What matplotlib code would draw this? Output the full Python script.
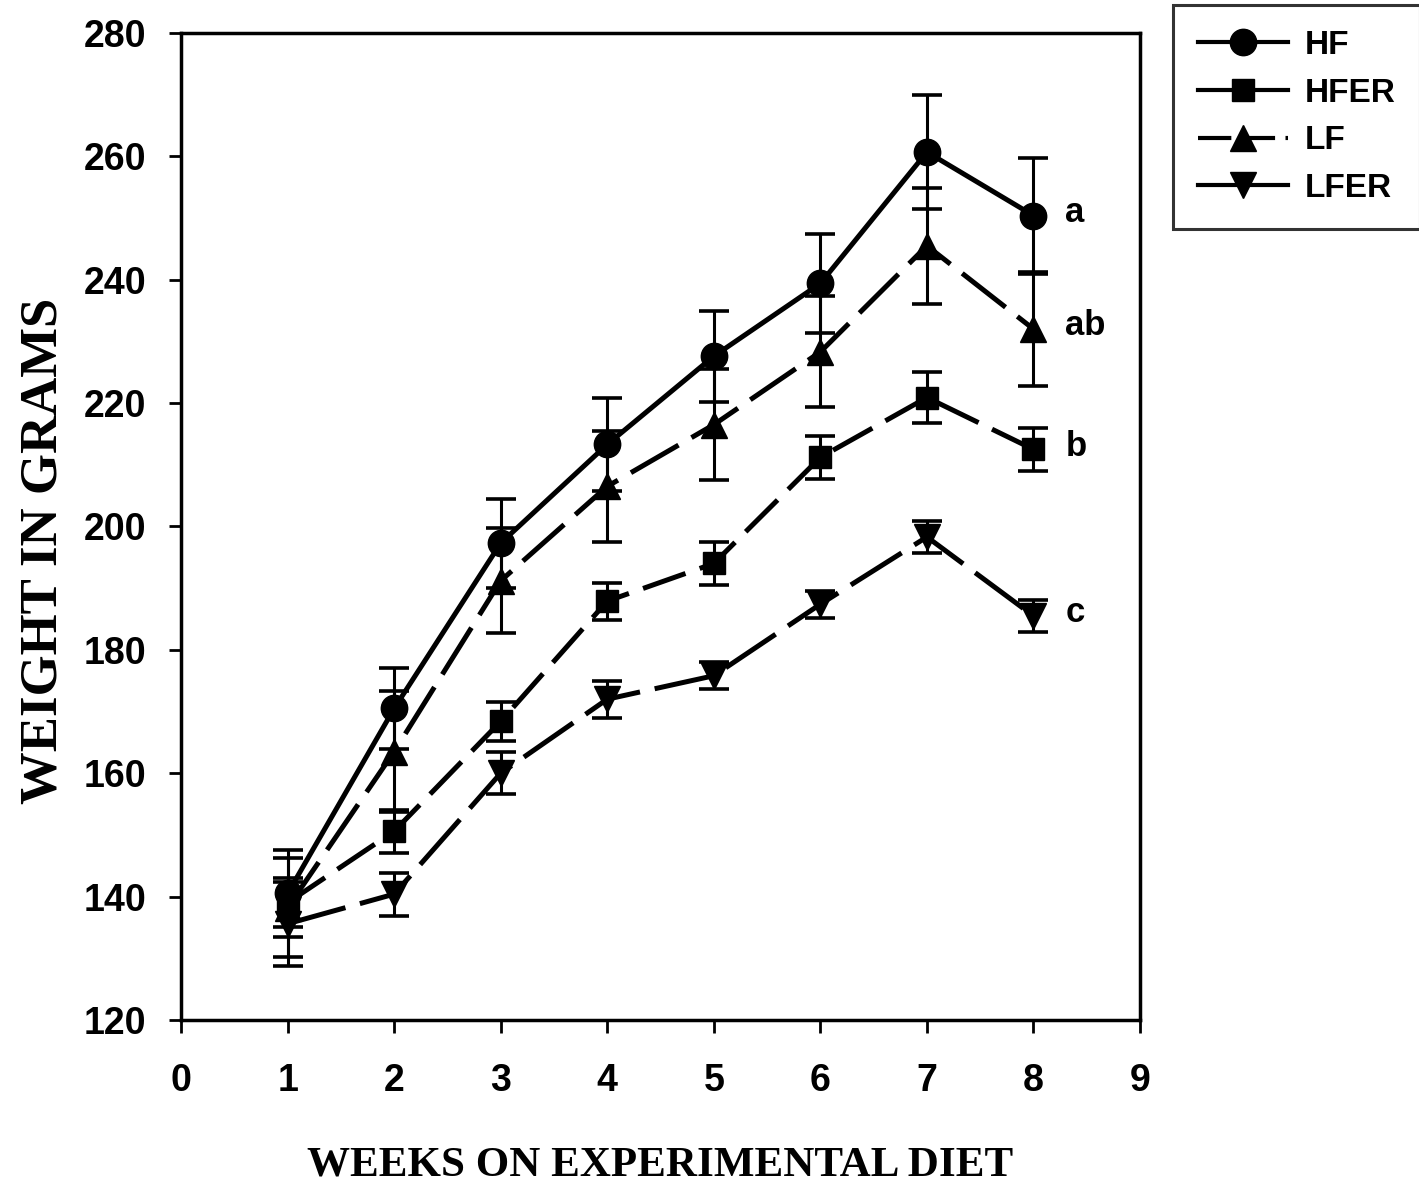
import numpy as np
import matplotlib
matplotlib.use('Agg')
import matplotlib.pyplot as plt
from matplotlib.lines import Line2D

weeks = [1, 2, 3, 4, 5, 6, 7, 8]

hf = [140.5, 170.5, 197.3, 213.3, 227.6, 239.4, 260.7, 250.4]
hf_err = [7.0, 6.5, 7.2, 7.5, 7.4, 8.0, 9.2, 9.4]

hfer = [139.0, 150.6, 168.4, 187.9, 194.0, 211.2, 220.9, 212.5]
hfer_err = [4.0, 3.5, 3.2, 3.0, 3.5, 3.5, 4.2, 3.5]

lf = [138.2, 163.5, 191.2, 206.5, 216.5, 228.3, 245.5, 232.0]
lf_err = [8.0, 9.8, 8.5, 9.0, 9.0, 9.0, 9.4, 9.2]

lfer = [135.6, 140.4, 160.0, 172.0, 175.8, 187.4, 198.3, 185.5]
lfer_err = [6.8, 3.5, 3.4, 3.0, 2.2, 2.2, 2.6, 2.6]

letters = ['a', 'ab', 'b', 'c']

sans = ['Liberation Sans', 'DejaVu Sans']
serif = ['Liberation Serif', 'DejaVu Serif']

fig = plt.figure(figsize=(14.19, 11.9), dpi=100)
ax = fig.add_axes([0.1276, 0.1429, 0.6758, 0.8294])

lw = 3.6
kw = dict(color='black', linewidth=lw, elinewidth=2.2, capsize=11, capthick=2.6)

ax.errorbar(weeks, hf, yerr=hf_err, marker='o', markersize=19, linestyle='-', **kw)
ax.errorbar(weeks, hfer, yerr=hfer_err, marker='s', markersize=16, linestyle=(0, (9, 3)), **kw)
ax.errorbar(weeks, lf, yerr=lf_err, marker='^', markersize=19, linestyle=(0, (11, 3)), **kw)
ax.errorbar(weeks, lfer, yerr=lfer_err, marker='v', markersize=19, linestyle=(0, (12, 3)), **kw)

for s, txt in zip([hf, lf, hfer, lfer], letters):
    ax.text(8.3, s[-1] + 0.5, txt, fontsize=25, fontweight='bold', family=sans, va='center', ha='left')

ax.set_xlim(0, 9)
ax.set_ylim(120, 280)
ax.set_xticks(range(0, 10))
ax.set_yticks(range(120, 281, 20))
ax.tick_params(direction='out', length=9, width=2, top=False, right=False)
ax.tick_params(axis='x', pad=22)
ax.tick_params(axis='y', pad=16)
for lab in ax.get_xticklabels() + ax.get_yticklabels():
    lab.set_fontsize(27)
    lab.set_fontweight('bold')
    lab.set_family(sans)
for sp in ax.spines.values():
    sp.set_linewidth(2.5)

ax.set_xlabel('WEEKS ON EXPERIMENTAL DIET', fontsize=31, fontweight='bold', family=serif)
ax.xaxis.set_label_coords(0.5, -0.128)
ax.set_ylabel('WEIGHT IN GRAMS', fontsize=38, fontweight='bold', family=serif)
ax.yaxis.set_label_coords(-0.118, 0.475)

handles = [
    Line2D([], [], color='black', linewidth=3, marker='o', markersize=19, label='HF'),
    Line2D([], [], color='black', linewidth=3, marker='s', markersize=16, label='HFER'),
    Line2D([], [], color='black', linewidth=3, marker='^', markersize=19, linestyle=(0, (8, 2.5)), label='LF'),
    Line2D([], [], color='black', linewidth=3, marker='v', markersize=19, label='LFER'),
]
leg = fig.legend(handles=handles, loc='upper left', bbox_to_anchor=(0.8266, 0.9958),
                 frameon=True, fancybox=False, edgecolor='black', handlelength=2.7,
                 prop={'family': sans, 'weight': 'bold', 'size': 24}, labelspacing=0.5,
                 borderpad=0.75, handletextpad=0.5, borderaxespad=0)
leg.get_frame().set_linewidth(2.2)

fig.savefig('out.png', dpi=100)
